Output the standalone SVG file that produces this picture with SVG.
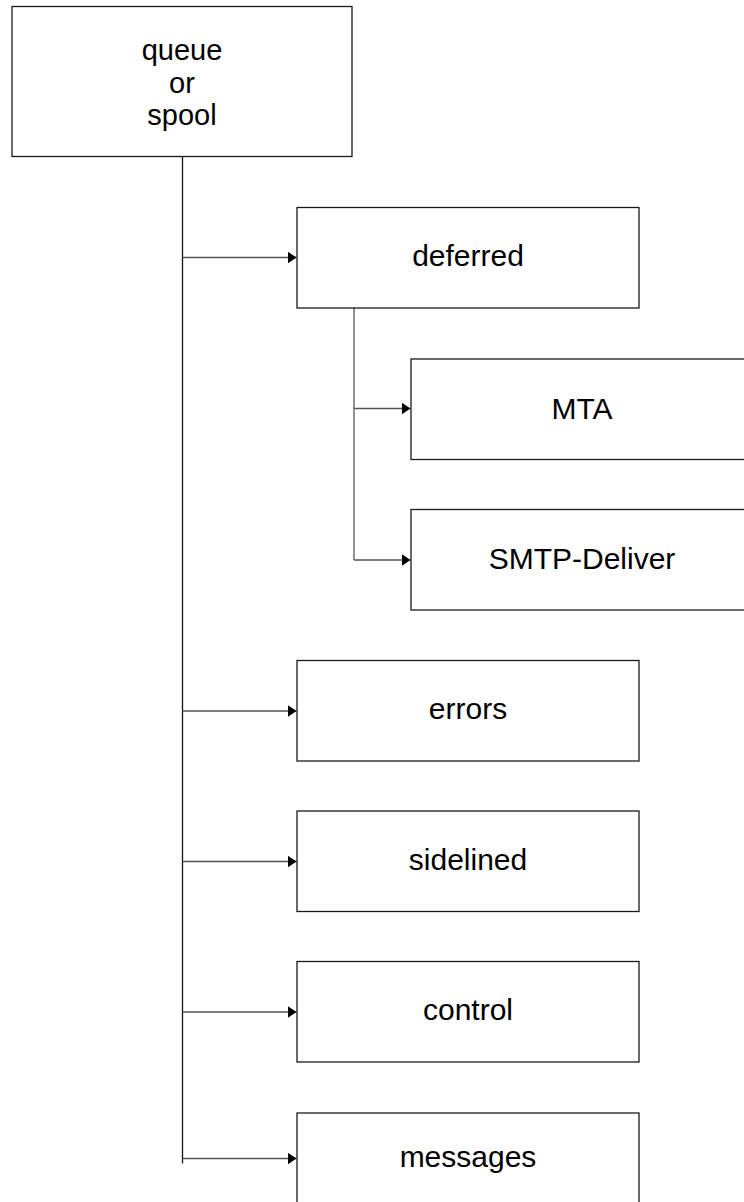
<svg xmlns="http://www.w3.org/2000/svg" width="744" height="1202" viewBox="0 0 744 1202">
  <style>
    .box { fill: #ffffff; stroke: #1a1a1a; stroke-width: 1.3; }
    .lbl { font-family: "Liberation Sans", Arial, sans-serif; font-size: 30px; fill: #000000; text-anchor: middle; }
    .root { font-size: 29px; }
    .wire { fill: none; stroke: #555555; stroke-width: 1.3; }
    .trunk { fill: none; stroke: #111111; stroke-width: 1.3; }
  </style>
  <defs>
    <marker id="arrow" viewBox="0 0 9 12" refX="9" refY="6" markerWidth="9" markerHeight="12" markerUnits="userSpaceOnUse" orient="auto">
      <path d="M0,0 L9,6 L0,12 Z" fill="#000000"/>
    </marker>
  </defs>
  <rect width="744" height="1202" fill="#ffffff"/>

  <!-- connectors -->
  <g id="connectors">
    <line class="trunk" x1="182.5" y1="156.5" x2="182.5" y2="1163.5"/>
    <line class="wire" x1="182.5" y1="257.5" x2="296.5" y2="257.5" marker-end="url(#arrow)"/>
    <line class="wire" x1="182.5" y1="711" x2="296.5" y2="711" marker-end="url(#arrow)"/>
    <line class="wire" x1="182.5" y1="861.5" x2="296.5" y2="861.5" marker-end="url(#arrow)"/>
    <line class="wire" x1="182.5" y1="1012" x2="296.5" y2="1012" marker-end="url(#arrow)"/>
    <line class="wire" x1="182.5" y1="1158.5" x2="296.5" y2="1158.5" marker-end="url(#arrow)"/>
    <line class="wire" x1="354" y1="308" x2="354" y2="560"/>
    <line class="wire" x1="354" y1="408.5" x2="410.5" y2="408.5" marker-end="url(#arrow)"/>
    <line class="wire" x1="354" y1="560" x2="410.5" y2="560" marker-end="url(#arrow)"/>
  </g>

  <!-- nodes -->
  <g id="queue">
    <rect class="box" x="12" y="6.5" width="340" height="150"/>
    <text class="lbl root" x="182" y="60">queue</text>
    <text class="lbl root" x="182" y="92.5">or</text>
    <text class="lbl root" x="182" y="125">spool</text>
  </g>
  <g id="deferred">
    <rect class="box" x="297" y="207.5" width="342" height="100.5"/>
    <text class="lbl" x="468" y="265.5">deferred</text>
  </g>
  <g id="mta">
    <rect class="box" x="411" y="359" width="342" height="100.5"/>
    <text class="lbl" x="582" y="418.5">MTA</text>
  </g>
  <g id="smtp-deliver">
    <rect class="box" x="411" y="509.5" width="342" height="100.5"/>
    <text class="lbl" x="582" y="569">SMTP-Deliver</text>
  </g>
  <g id="errors">
    <rect class="box" x="297" y="660.5" width="342" height="100.5"/>
    <text class="lbl" x="468" y="719">errors</text>
  </g>
  <g id="sidelined">
    <rect class="box" x="297" y="811" width="342" height="100.5"/>
    <text class="lbl" x="468" y="869.5">sidelined</text>
  </g>
  <g id="control">
    <rect class="box" x="297" y="961.5" width="342" height="100.5"/>
    <text class="lbl" x="468" y="1020">control</text>
  </g>
  <g id="messages">
    <rect class="box" x="297" y="1113" width="342" height="100.5"/>
    <text class="lbl" x="468" y="1166.5">messages</text>
  </g>
</svg>
